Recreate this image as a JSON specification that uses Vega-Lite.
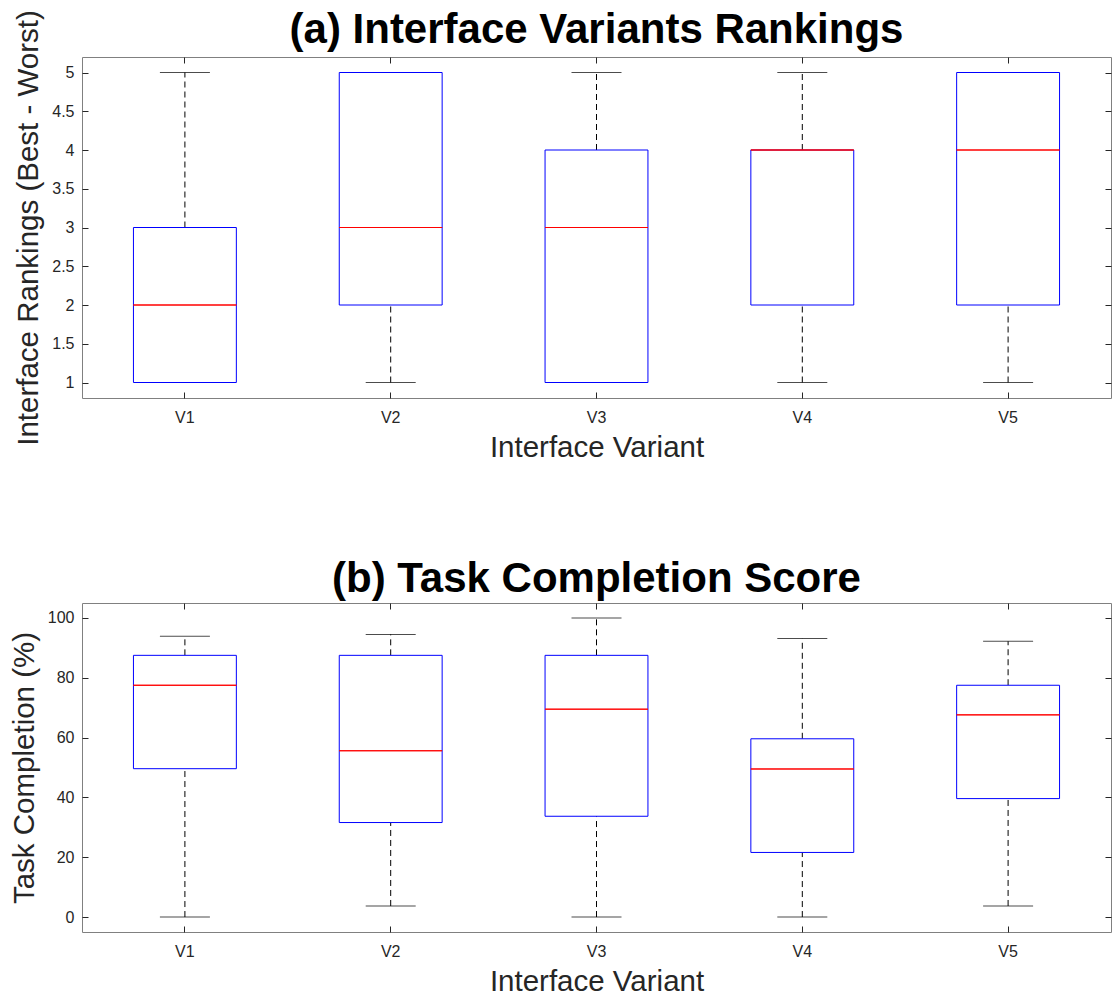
{
  "$schema": "https://vega.github.io/schema/vega-lite/v6.json",
  "padding": {"left": 8, "top": 8, "right": 2, "bottom": 2},
  "config": {
    "font": "Liberation Sans",
    "view": {"stroke": "#808080", "strokeWidth": 1},
    "axis": {
      "grid": false,
      "domain": false,
      "tickColor": "#262626",
      "tickWidth": 1,
      "labelFont": "Liberation Sans",
      "labelFontSize": 16,
      "labelColor": "#262626",
      "titleFont": "Liberation Sans",
      "titleFontSize": 29.5,
      "titleFontWeight": "normal",
      "titleColor": "#262626"
    },
    "title": {
      "font": "Liberation Sans",
      "fontSize": 42,
      "fontWeight": "bold",
      "color": "#000000",
      "anchor": "middle",
      "frame": "group",
      "baseline": "alphabetic"
    }
  },
  "datasets": {
    "rank": [
      {"variant": "V1", "lower": 1, "q1": 1, "median": 2, "q3": 3, "upper": 5},
      {"variant": "V2", "lower": 1, "q1": 2, "median": 3, "q3": 5, "upper": 5},
      {"variant": "V3", "lower": 1, "q1": 1, "median": 3, "q3": 4, "upper": 5},
      {"variant": "V4", "lower": 1, "q1": 2, "median": 4, "q3": 4, "upper": 5},
      {"variant": "V5", "lower": 1, "q1": 2, "median": 4, "q3": 5, "upper": 5}
    ],
    "task": [
      {"variant": "V1", "lower": 0, "q1": 49.6, "median": 77.5, "q3": 87.5, "upper": 93.9},
      {"variant": "V2", "lower": 3.7, "q1": 31.6, "median": 55.6, "q3": 87.5, "upper": 94.5},
      {"variant": "V3", "lower": 0, "q1": 33.7, "median": 69.5, "q3": 87.5, "upper": 100},
      {"variant": "V4", "lower": 0, "q1": 21.6, "median": 49.5, "q3": 59.6, "upper": 93.1},
      {"variant": "V5", "lower": 3.7, "q1": 39.6, "median": 67.6, "q3": 77.5, "upper": 92.2}
    ]
  },
  "spacing": 95,
  "vconcat": [
    {
      "width": 1029,
      "height": 341,
      "title": {"text": "(a) Interface Variants Rankings", "offset": -42},
      "data": {"name": "rank"},
      "layer": [
        {
          "mark": {"type": "rule", "color": "#000000", "strokeWidth": 1, "strokeDash": [6, 4]},
          "encoding": {
            "x": {"field": "variant", "type": "nominal", "scale": {"type": "band", "paddingInner": 0, "paddingOuter": 0},
                  "axis": {"title": "Interface Variant", "labelAngle": 0, "ticks": false, "tickSize": 0, "labelPadding": 11, "titlePadding": 8}},
            "y": {"field": "lower", "type": "quantitative", "scale": {"domain": [0.8, 5.2], "nice": false, "zero": false},
                  "axis": {"title": "Interface Rankings (Best - Worst)", "values": [1, 1.5, 2, 2.5, 3, 3.5, 4, 4.5, 5], "format": "~g", "ticks": false, "tickSize": 0, "labelPadding": 8, "titlePadding": 8}},
            "y2": {"field": "q1"}
          }
        },
        {
          "mark": {"type": "rule", "color": "#000000", "strokeWidth": 1, "strokeDash": [6, 4]},
          "encoding": {
            "x": {"field": "variant", "type": "nominal", "axis": {"orient": "bottom", "labels": false, "title": null, "tickSize": 6, "offset": -6}},
            "y": {"field": "q3", "type": "quantitative", "axis": {"orient": "left", "labels": false, "title": null, "tickSize": 6, "offset": -6, "values": [1, 1.5, 2, 2.5, 3, 3.5, 4, 4.5, 5]}},
            "y2": {"field": "upper"}
          }
        },
        {
          "mark": {"type": "tick", "color": "#000000", "size": 50, "thickness": 1},
          "encoding": {
            "x": {"field": "variant", "type": "nominal", "axis": {"orient": "top", "labels": false, "title": null, "tickSize": 6, "offset": -6}},
            "y": {"field": "lower", "type": "quantitative", "axis": {"orient": "right", "labels": false, "title": null, "tickSize": 6, "offset": -6, "values": [1, 1.5, 2, 2.5, 3, 3.5, 4, 4.5, 5]}}
          }
        },
        {
          "mark": {"type": "tick", "color": "#000000", "size": 50, "thickness": 1},
          "encoding": {
            "x": {"field": "variant", "type": "nominal", "axis": null},
            "y": {"field": "upper", "type": "quantitative", "axis": null}
          }
        },
        {
          "mark": {"type": "bar", "fill": "#ffffff", "stroke": "#0000ff", "strokeWidth": 1, "width": {"band": 0.5}},
          "encoding": {
            "x": {"field": "variant", "type": "nominal", "axis": null},
            "y": {"field": "q1", "type": "quantitative", "axis": null},
            "y2": {"field": "q3"}
          }
        },
        {
          "mark": {"type": "bar", "fill": null, "fillOpacity": 0, "stroke": "#ff0000", "strokeWidth": 1, "width": {"band": 0.5}},
          "encoding": {
            "x": {"field": "variant", "type": "nominal", "axis": null},
            "y": {"field": "median", "type": "quantitative", "axis": null},
            "y2": {"field": "median"}
          }
        }
      ],
      "resolve": {"axis": {"x": "independent", "y": "independent"}}
    },
    {
      "width": 1029,
      "height": 329,
      "title": {"text": "(b) Task Completion Score", "offset": 2},
      "data": {"name": "task"},
      "layer": [
        {
          "mark": {"type": "rule", "color": "#000000", "strokeWidth": 1, "strokeDash": [6, 4]},
          "encoding": {
            "x": {"field": "variant", "type": "nominal", "scale": {"type": "band", "paddingInner": 0, "paddingOuter": 0},
                  "axis": {"title": "Interface Variant", "labelAngle": 0, "ticks": false, "tickSize": 0, "labelPadding": 11, "titlePadding": 8}},
            "y": {"field": "lower", "type": "quantitative", "scale": {"domain": [-5, 105], "nice": false, "zero": false},
                  "axis": {"title": "Task Completion (%)", "values": [0, 20, 40, 60, 80, 100], "format": "d", "ticks": false, "tickSize": 0, "labelPadding": 8, "titlePadding": 8}},
            "y2": {"field": "q1"}
          }
        },
        {
          "mark": {"type": "rule", "color": "#000000", "strokeWidth": 1, "strokeDash": [6, 4]},
          "encoding": {
            "x": {"field": "variant", "type": "nominal", "axis": {"orient": "bottom", "labels": false, "title": null, "tickSize": 6, "offset": -6}},
            "y": {"field": "q3", "type": "quantitative", "axis": {"orient": "left", "labels": false, "title": null, "tickSize": 6, "offset": -6, "values": [0, 20, 40, 60, 80, 100]}},
            "y2": {"field": "upper"}
          }
        },
        {
          "mark": {"type": "tick", "color": "#000000", "size": 50, "thickness": 1},
          "encoding": {
            "x": {"field": "variant", "type": "nominal", "axis": {"orient": "top", "labels": false, "title": null, "tickSize": 6, "offset": -6}},
            "y": {"field": "lower", "type": "quantitative", "axis": {"orient": "right", "labels": false, "title": null, "tickSize": 6, "offset": -6, "values": [0, 20, 40, 60, 80, 100]}}
          }
        },
        {
          "mark": {"type": "tick", "color": "#000000", "size": 50, "thickness": 1},
          "encoding": {
            "x": {"field": "variant", "type": "nominal", "axis": null},
            "y": {"field": "upper", "type": "quantitative", "axis": null}
          }
        },
        {
          "mark": {"type": "bar", "fill": "#ffffff", "stroke": "#0000ff", "strokeWidth": 1, "width": {"band": 0.5}},
          "encoding": {
            "x": {"field": "variant", "type": "nominal", "axis": null},
            "y": {"field": "q1", "type": "quantitative", "axis": null},
            "y2": {"field": "q3"}
          }
        },
        {
          "mark": {"type": "bar", "fill": null, "fillOpacity": 0, "stroke": "#ff0000", "strokeWidth": 1, "width": {"band": 0.5}},
          "encoding": {
            "x": {"field": "variant", "type": "nominal", "axis": null},
            "y": {"field": "median", "type": "quantitative", "axis": null},
            "y2": {"field": "median"}
          }
        }
      ],
      "resolve": {"axis": {"x": "independent", "y": "independent"}}
    }
  ]
}
